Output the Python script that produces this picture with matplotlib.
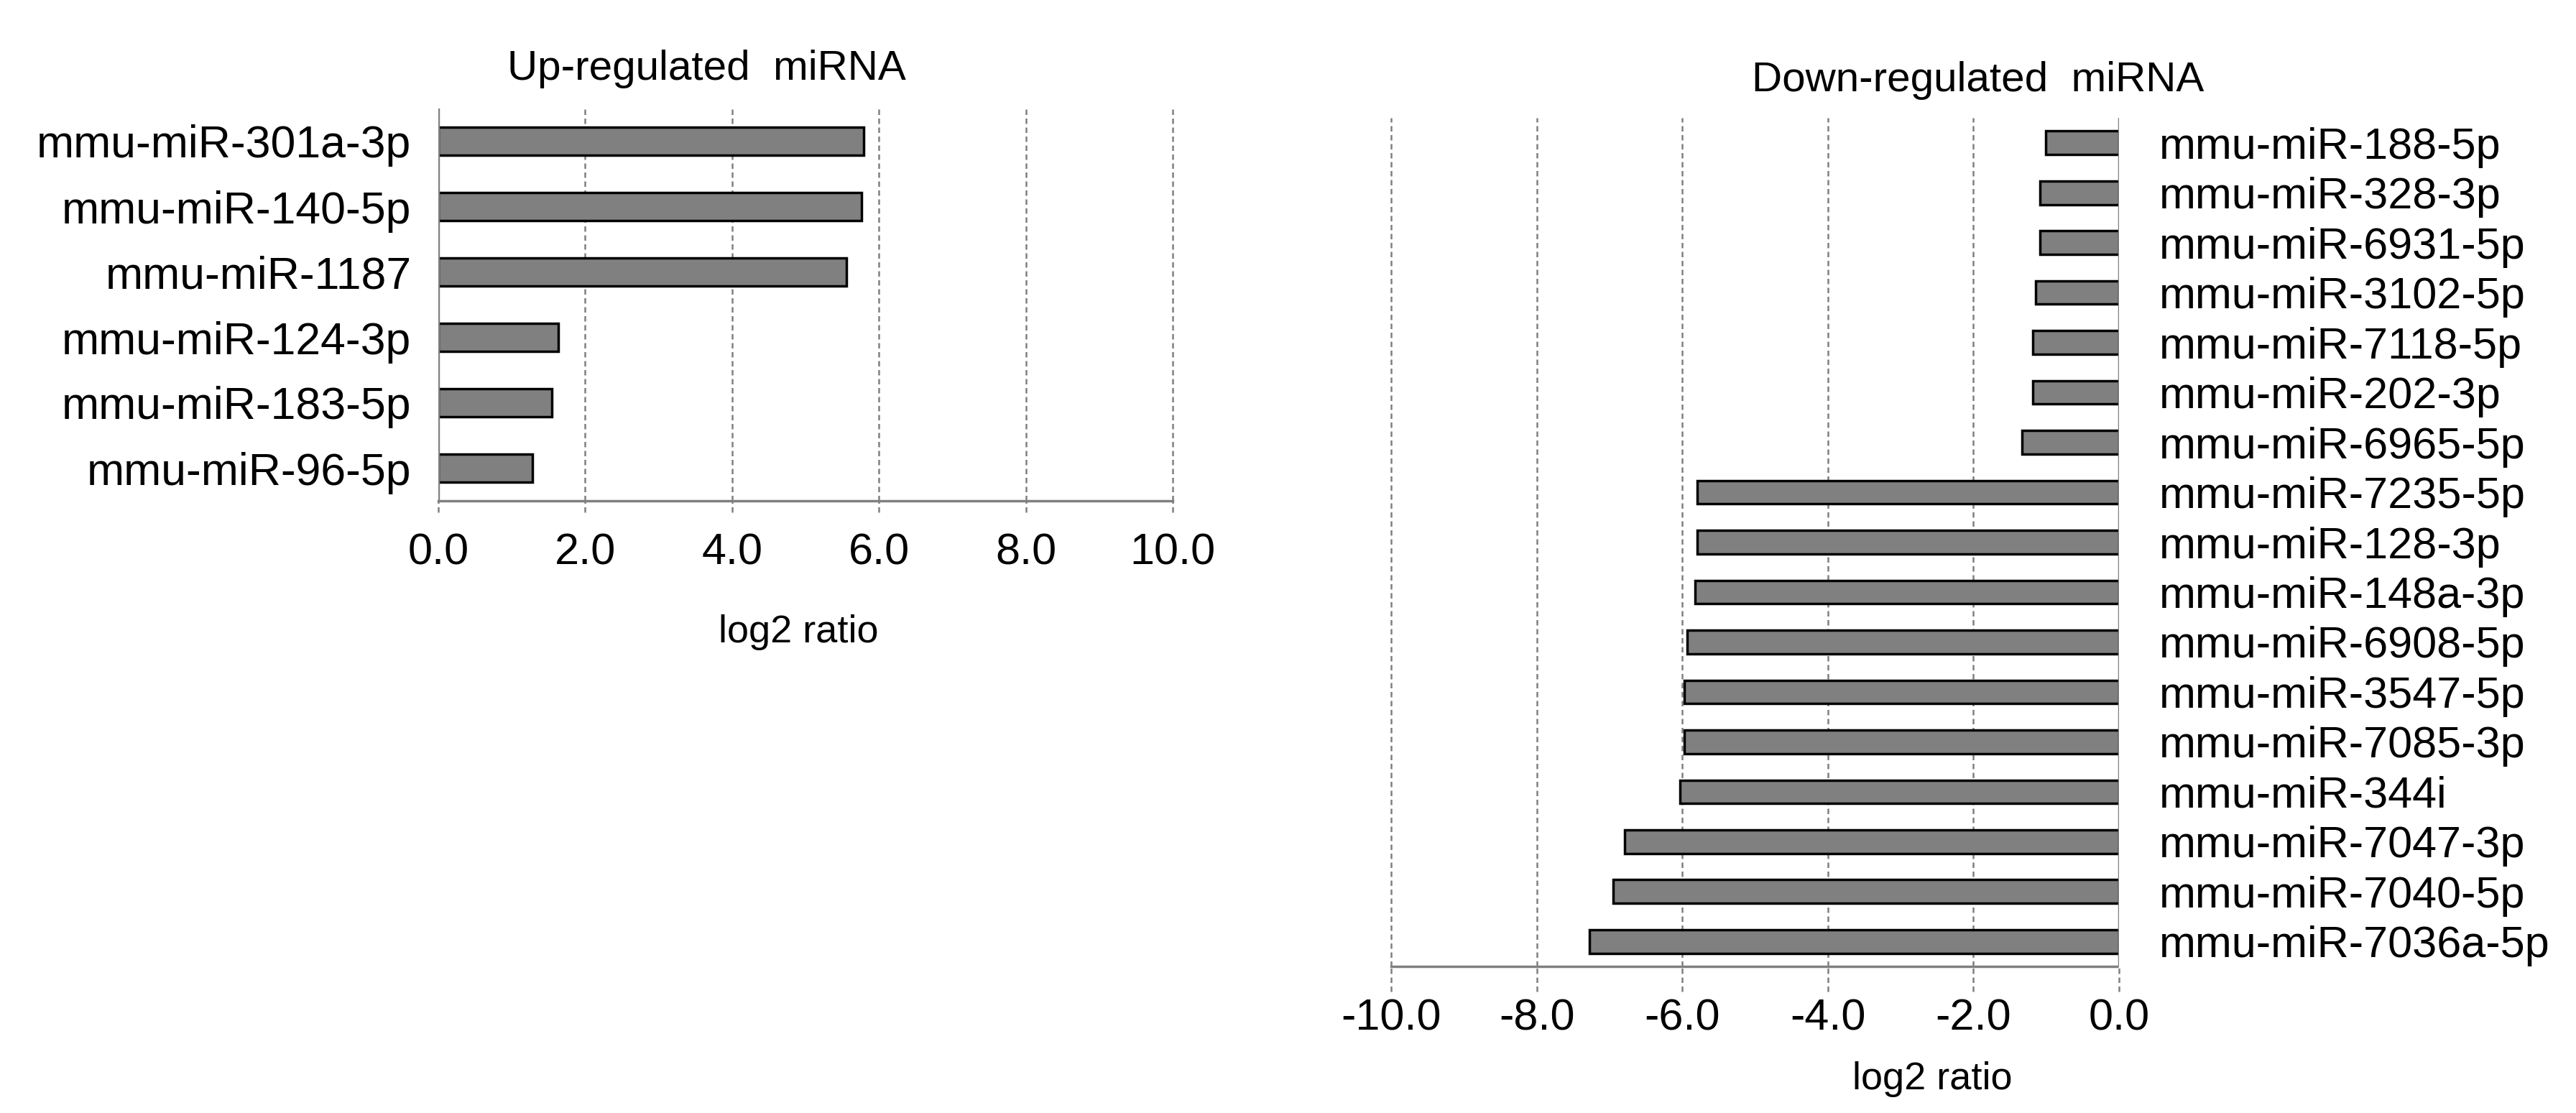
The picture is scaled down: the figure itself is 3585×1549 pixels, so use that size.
import matplotlib
matplotlib.use("Agg")
import matplotlib.pyplot as plt
import matplotlib.transforms as mtransforms
from matplotlib.ticker import FormatStrFormatter
import numpy as np

plt.rcParams['font.family'] = ['Liberation Sans', 'DejaVu Sans']
plt.rcParams['axes.unicode_minus'] = False

# Up-regulated miRNA (top to bottom)
up_labels = ['mmu-miR-301a-3p', 'mmu-miR-140-5p', 'mmu-miR-1187',
             'mmu-miR-124-3p', 'mmu-miR-183-5p', 'mmu-miR-96-5p']
up_values = [5.79, 5.76, 5.56, 1.63, 1.55, 1.28]

# Down-regulated miRNA (top to bottom)
down_labels = ['mmu-miR-188-5p', 'mmu-miR-328-3p', 'mmu-miR-6931-5p',
               'mmu-miR-3102-5p', 'mmu-miR-7118-5p', 'mmu-miR-202-3p',
               'mmu-miR-6965-5p', 'mmu-miR-7235-5p', 'mmu-miR-128-3p',
               'mmu-miR-148a-3p', 'mmu-miR-6908-5p', 'mmu-miR-3547-5p',
               'mmu-miR-7085-3p', 'mmu-miR-344i', 'mmu-miR-7047-3p',
               'mmu-miR-7040-5p', 'mmu-miR-7036a-5p']
down_values = [-1.01, -1.09, -1.09, -1.15, -1.18, -1.18, -1.33, -5.79, -5.79,
               -5.82, -5.93, -5.97, -5.97, -6.03, -6.79, -6.95, -7.28]

up_ticks = [0, 2, 4, 6, 8, 10]
down_ticks = [-10, -8, -6, -4, -2, 0]

W, H = 3585, 1549
FS_TICK = 44
FS_XLAB = 39
FS_TITLE = 42
GRAY = '#808080'


def px_rect(x0, x1, y_top, y_bot):
    return [x0 / W, 1 - y_bot / H, (x1 - x0) / W, (y_bot - y_top) / H]


def style_axis(ax, labels, values, ticks, height, label_fs):
    y = np.arange(len(labels))
    ax.barh(y, values, height=height, color=GRAY, edgecolor='black',
            linewidth=2.5, zorder=3)
    ax.set_ylim(len(labels) - 0.5, -0.5)
    ax.set_xlim(ticks[0], ticks[-1])
    ax.set_xticks(ticks)
    ax.xaxis.set_major_formatter(FormatStrFormatter('%.1f'))
    ax.set_yticks(y)
    ax.set_yticklabels(labels, fontsize=label_fs)

    # dashed gridlines reaching a bit below the axis
    trans = mtransforms.blended_transform_factory(ax.transData, ax.transAxes)
    for t in ticks:
        ax.plot([t, t], [-0.03, 0], transform=trans, color=GRAY,
                lw=1.8, ls=(0, (3, 2)), clip_on=False, zorder=2)
        if t != 0:
            ax.plot([t, t], [0, 1], transform=trans, color=GRAY,
                    lw=1.8, ls=(0, (3, 2)), clip_on=False, zorder=2)

    for s in ['top', 'left', 'right']:
        ax.spines[s].set_visible(False)
    ax.spines['bottom'].set_color(GRAY)
    ax.spines['bottom'].set_linestyle((0, (1, 1)))
    ax.spines['bottom'].set_linewidth(2.5)
    ax.axvline(0, color=GRAY, lw=2.5, zorder=4)

    ax.tick_params(axis='both', length=0)
    ax.tick_params(axis='x', labelsize=FS_TICK, pad=32)


fig = plt.figure(figsize=(W / 100, H / 100), dpi=100)

# left: up-regulated
ax1 = fig.add_axes(px_rect(610, 1632, 151, 697))
style_axis(ax1, up_labels, up_values, up_ticks, 0.42, 45)
ax1.tick_params(axis='y', pad=27)
ax1.set_xlabel('log2 ratio', fontsize=FS_XLAB)
ax1.xaxis.set_label_coords(0.49, -0.29)
fig.text(983 / W, 1 - 96 / H, 'Up-regulated  miRNA', fontsize=FS_TITLE,
         ha='center', va='center')

# right: down-regulated
ax2 = fig.add_axes(px_rect(1936, 2949, 164, 1345))
style_axis(ax2, down_labels, down_values, down_ticks, 0.47, 44)
ax2.yaxis.tick_right()
ax2.tick_params(axis='y', pad=40, length=0)
ax2.set_xlabel('log2 ratio', fontsize=FS_XLAB)
ax2.xaxis.set_label_coords(0.744, -0.112)
fig.text(2753 / W, 1 - 112 / H, 'Down-regulated  miRNA', fontsize=FS_TITLE,
         ha='center', va='center')

fig.savefig('out.png', dpi=100, facecolor='white')
